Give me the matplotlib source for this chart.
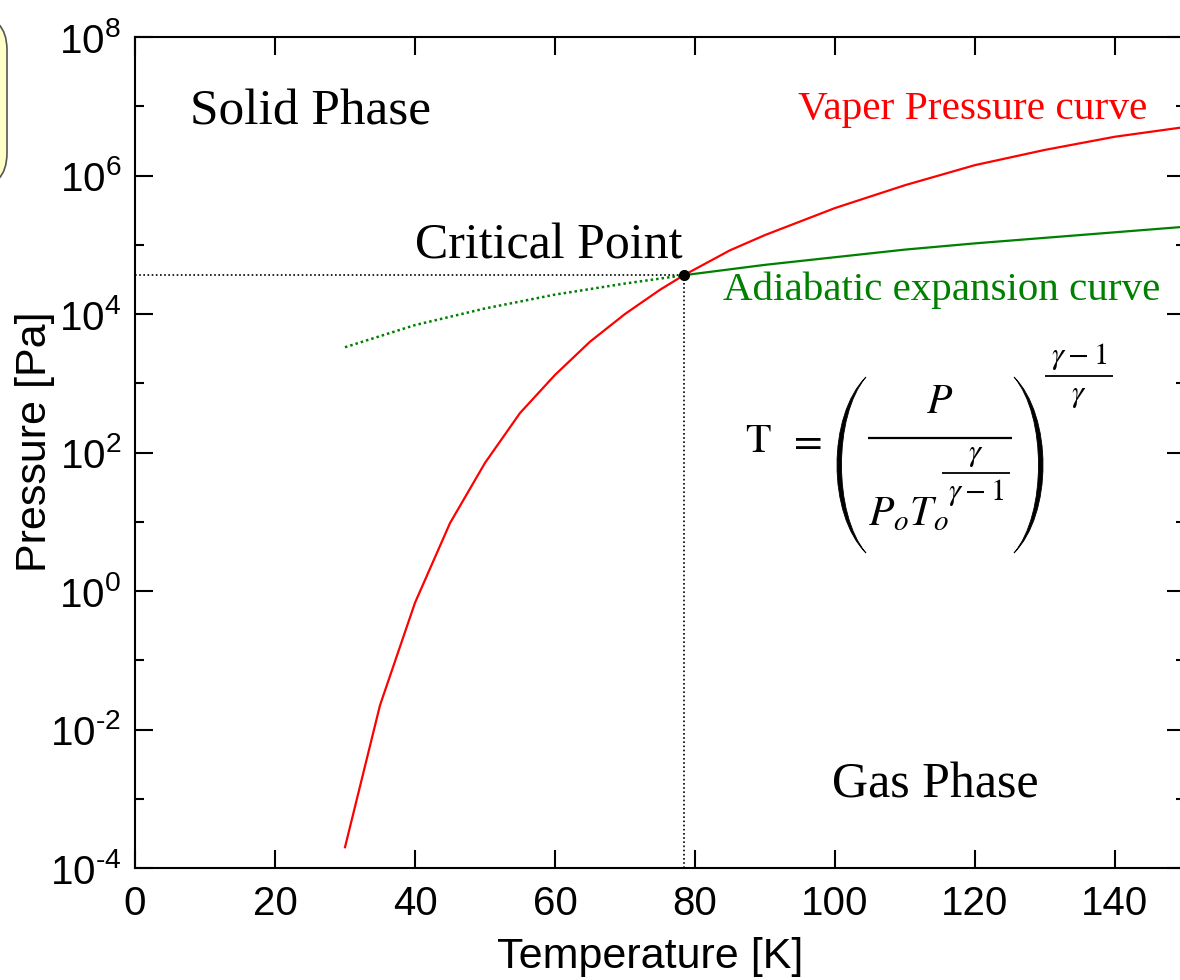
import matplotlib
matplotlib.use("Agg")
import matplotlib.pyplot as plt
import numpy as np
from matplotlib.ticker import FixedLocator, FuncFormatter, NullLocator
from matplotlib.patches import FancyBboxPatch, PathPatch
from matplotlib.path import Path

# ---- data ----
vapor_T = [30, 35, 40, 45, 50, 55, 60, 65, 70, 75, 78.4, 85, 90, 100, 110, 120, 130, 140, 150]
vapor_logP = [-3.70, -1.65, -0.17, 0.98, 1.85, 2.57, 3.12, 3.60, 4.00, 4.35, 4.56,
              4.92, 5.14, 5.53, 5.86, 6.15, 6.37, 6.56, 6.70]

adia_T_dotted = [30, 40, 50, 60, 70, 78.4]
adia_logP_dotted = [3.52, 3.84, 4.08, 4.28, 4.44, 4.56]
adia_T_solid = [78.4, 90, 100, 110, 120, 130, 140, 150]
adia_logP_solid = [4.56, 4.71, 4.82, 4.93, 5.02, 5.10, 5.18, 5.26]

crit_T = 78.4
crit_logP = 4.56

x_ticks = [0, 20, 40, 60, 80, 100, 120, 140]
y_major_exp = [-4, -2, 0, 2, 4, 6, 8]
y_minor_exp = [-3, -1, 1, 3, 5, 7]

plt.rcParams['font.family'] = ['Liberation Sans', 'DejaVu Sans']
plt.rcParams['mathtext.fontset'] = 'custom'
plt.rcParams['mathtext.rm'] = 'Liberation Sans'
plt.rcParams['mathtext.it'] = 'Liberation Sans:italic'
plt.rcParams['mathtext.bf'] = 'Liberation Sans:bold'

fig = plt.figure(figsize=(11.8, 9.8), dpi=100)
W, H = 1180, 980
ax = fig.add_axes([135 / W, (H - 868) / H, (1185 - 135) / W, (868 - 37) / H])

ax.set_yscale('log')
ax.set_xlim(0, 150)
ax.set_ylim(1e-4, 1e8)

vP = [10 ** v for v in vapor_logP]
ax.plot(vapor_T, vP, color='#ff0000', lw=1.6, zorder=3)
ax.plot(adia_T_dotted, [10 ** v for v in adia_logP_dotted], color='#008000', lw=1.8,
        linestyle=(0, (1, 1.2)), zorder=3)
ax.plot(adia_T_solid, [10 ** v for v in adia_logP_solid], color='#008000', lw=1.6, zorder=3)

cp = 10 ** crit_logP
ax.plot([0, crit_T], [cp, cp], color='black', lw=1.2, linestyle=(0, (1, 1.5)), zorder=2)
ax.plot([crit_T, crit_T], [1e-4, cp], color='black', lw=1.2, linestyle=(0, (1, 1.5)), zorder=2)
ax.plot([crit_T], [cp], 'o', color='black', ms=7, zorder=5)


def ylab(v, p):
    e = int(round(np.log10(v)))
    if e < 0:
        return r'$10^{\text{-}%d}$' % (-e)
    return r'$10^{%d}$' % e


# ticks
ax.xaxis.set_major_locator(FixedLocator(x_ticks))
ax.xaxis.set_minor_locator(NullLocator())
ax.yaxis.set_major_locator(FixedLocator([10.0 ** e for e in y_major_exp]))
ax.yaxis.set_minor_locator(FixedLocator([10.0 ** e for e in y_minor_exp]))
ax.yaxis.set_major_formatter(FuncFormatter(ylab))
ax.yaxis.set_minor_formatter(FuncFormatter(lambda v, p: ''))

ax.tick_params(which='both', direction='in', top=True, right=True, width=1.5, colors='black')
ax.tick_params(which='major', length=13, labelsize=29)
ax.tick_params(axis='x', which='major', pad=12)
ax.tick_params(axis='y', which='major', pad=10)
ax.tick_params(which='minor', length=6.5)
for s in ax.spines.values():
    s.set_linewidth(1.5)

fig.text(650 / W, 1 - 957 / H, 'Temperature [K]', fontsize=31, ha='center', va='center')
fig.text(35 / W, 1 - 442 / H, 'Pressure [Pa]', fontsize=31, ha='center', va='center',
         rotation=90)

serif = ['Liberation Serif', 'DejaVu Serif']
ax.text(7.8, 10 ** 6.91, 'Solid Phase', family=serif, fontsize=37, va='center', ha='left')
ax.text(78.2, 10 ** 4.98, 'Critical Point', family=serif, fontsize=36, va='center', ha='right')
ax.text(144.6, 10 ** 6.95, 'Vaper Pressure curve', family=serif, fontsize=29.8, color='#ff0000',
        va='center', ha='right')
ax.text(84, 10 ** 4.35, 'Adiabatic expansion curve', family=serif, fontsize=29.5, color='#008000',
        va='center', ha='left')
ax.text(99.5, 10 ** -2.8, 'Gas Phase', family=serif, fontsize=36, va='center', ha='left')

# ---- overlay in pixel coordinates for the equation and the clipped box ----
ov = fig.add_axes([0, 0, 1, 1], zorder=10)
ov.set_xlim(0, W)
ov.set_ylim(H, 0)
ov.axis('off')

MF = 'stix'
big, small = 30, 22
ov.text(745, 452, r'$\mathrm{T}$', fontsize=big, math_fontfamily=MF, ha='left', va='baseline')
ov.text(804, 452, r'$=$', fontsize=big, math_fontfamily=MF, ha='center', va='baseline')
# main fraction
ov.plot([868, 1012], [438, 438], color='black', lw=1.6, solid_capstyle='butt')
ov.text(940, 413, r'$P$', fontsize=big, math_fontfamily=MF, ha='center', va='baseline')
ov.text(868, 525, r'$P_oT_o$', fontsize=big, math_fontfamily=MF, ha='left', va='baseline')
# exponent of T_o
ov.plot([942, 1010], [473, 473], color='black', lw=1.3, solid_capstyle='butt')
ov.text(976, 469, r'$\gamma$', fontsize=small, math_fontfamily=MF, ha='center', va='bottom')
ov.text(976, 477, r'$\gamma-1$', fontsize=small, math_fontfamily=MF, ha='center', va='top')
# outer exponent
ov.plot([1045, 1113], [376, 376], color='black', lw=1.3, solid_capstyle='butt')
ov.text(1079, 372, r'$\gamma-1$', fontsize=small, math_fontfamily=MF, ha='center', va='bottom')
ov.text(1079, 380, r'$\gamma$', fontsize=small, math_fontfamily=MF, ha='center', va='top')


def paren(x_end, x_out, x_in, y0, y1):
    h = y1 - y0
    c_out = (8 * x_out - 2 * x_end) / 6.0
    c_in = (8 * x_in - 2 * x_end) / 6.0
    verts = [(x_end, y0),
             (c_out, y0 + 0.22 * h), (c_out, y1 - 0.22 * h), (x_end, y1),
             (c_in, y1 - 0.22 * h), (c_in, y0 + 0.22 * h), (x_end, y0),
             (x_end, y0)]
    codes = [Path.MOVETO, Path.CURVE4, Path.CURVE4, Path.CURVE4,
             Path.CURVE4, Path.CURVE4, Path.CURVE4, Path.CLOSEPOLY]
    ov.add_patch(PathPatch(Path(verts, codes), facecolor='black', edgecolor='black', lw=0.6))


paren(866, 837, 841.5, 377, 553)
paren(1014, 1043, 1038.5, 377, 553)

# partial yellow rounded box at far left
box = FancyBboxPatch((-80, 15), 87, 173, boxstyle='round,pad=0,rounding_size=35',
                     facecolor='#ffffc8', edgecolor='#555555', lw=1.2)
ov.add_patch(box)

fig.savefig('out.png', dpi=100)
